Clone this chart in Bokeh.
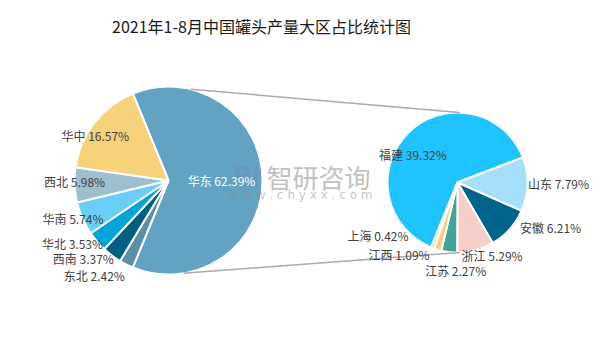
import math
from bokeh.plotting import figure
from bokeh.models import Range1d, ColumnDataSource
from bokeh.core.properties import value
from bokeh.embed import file_html
from bokeh.resources import INLINE

# ---------------- data ----------------
title_text = "2021年1-8月中国罐头产量大区占比统计图"
regions = ["华东", "东北", "西南", "华北", "华南", "西北", "华中"]
region_share = [62.39, 2.42, 3.37, 3.53, 5.74, 5.98, 16.57]
region_colors = ["#62A3C3", "#5B8FA8", "#005F82", "#05A3DC", "#6ACFF6", "#9DBFCF", "#F6D27B"]

provinces = ["福建", "山东", "安徽", "浙江", "江苏", "江西", "上海"]
province_share = [39.32, 7.79, 6.21, 5.29, 2.27, 1.09, 0.42]
province_colors = ["#1FC3FF", "#A5DFF8", "#006389", "#F7CFC8", "#42A39A", "#F6D27B", "#A9C6D2"]

# ---------------- layout ----------------
H = 364
FONT = "Noto Sans CJK SC"
L_C = (168, H - 180); L_R = 94
R_C = (457, H - 182); R_R = 70
R_THETA0 = 247.9  # start angle of second pie (deg, math)
# label offsets from rim point at slice mid-angle (screen px, y down)
L_OFF = [(-41, 0), (-32, 11), (-28.5, 3), (-24.5, 2), (-9.5, 0), (0, -3), (1, 13)]
R_OFF = [(4.5, 22), (31, -1), (41, -2), (16.5, 5), (6.5, 18), (-38.5, 5), (-54.5, -12)]


def wedges(shares, theta0_deg):
    total = sum(shares)
    a = math.radians(theta0_deg)
    starts, ends, mids = [], [], []
    for s in shares:
        span = 2 * math.pi * s / total
        starts.append(a); ends.append(a - span); mids.append(a - span / 2)
        a -= span
    return starts, ends, mids


p = figure(width=590, height=348, output_backend="svg", toolbar_location=None,
           x_range=Range1d(0, 590), y_range=Range1d(16, 364), min_border=0)
p.axis.visible = False
p.grid.visible = False
p.outline_line_color = None
p.background_fill_color = "white"

# left pie
l_theta0 = 180.0 * region_share[0] / sum(region_share)
ls, le, lm = wedges(region_share, l_theta0)
p.wedge(x=L_C[0], y=L_C[1], radius=L_R,
        source=ColumnDataSource(dict(s=ls, e=le, c=region_colors)),
        start_angle="s", end_angle="e", direction="clock",
        fill_color="c", line_color="white", line_width=2)

# right pie
rs, re_, rm = wedges(province_share, R_THETA0)
p.wedge(x=R_C[0], y=R_C[1], radius=R_R,
        source=ColumnDataSource(dict(s=rs, e=re_, c=province_colors)),
        start_angle="s", end_angle="e", direction="clock",
        fill_color="c", line_color="white", line_width=2)

# connector lines
for la, ra in [(76.4, 88.4), (-80.9, -88.3)]:
    x0 = L_C[0] + L_R * math.cos(math.radians(la)); y0 = L_C[1] + L_R * math.sin(math.radians(la))
    x1 = R_C[0] + R_R * math.cos(math.radians(ra)); y1 = R_C[1] + R_R * math.sin(math.radians(ra))
    p.line([x0, x1], [y0, y1], line_color="#ABABAB", line_width=1.5)

# watermark
p.text(x=[318], y=[H - 176], text=["智研咨询"], text_align="center", text_baseline="middle",
       text_font=value(FONT), text_font_size="26px", text_color="#8C8C8C", text_alpha=0.55)
p.text(x=[300], y=[H - 194], text=["w w w . c h y x x . c o m"], text_align="center",
       text_baseline="middle", text_font=value("DejaVu Sans"), text_font_size="12px",
       text_color="#8C8C8C", text_alpha=0.5)
p.text(x=[246], y=[H - 176], text=["Pi"], text_align="center", text_baseline="middle",
       text_font=value("DejaVu Sans"), text_font_size="26px", text_font_style="bold",
       text_color="#6E8CA8", text_alpha=0.45)


def labels(names, shares, mids, center, r, offs, colors):
    xs, ys, ts = [], [], []
    for n, v, m, (dx, dy) in zip(names, shares, mids, offs):
        xs.append(center[0] + r * math.cos(m) + dx)
        ys.append(center[1] + r * math.sin(m) - dy)
        ts.append(f"{n} {v:.2f}%")
    p.text(x=xs, y=ys, text=ts, text_align="center", text_baseline="middle",
           text_font=value(FONT), text_font_size="12px", text_color=colors)


labels(regions, region_share, lm, L_C, L_R, L_OFF,
       ["#FFFFFF"] + ["#404040"] * (len(regions) - 1))
labels(provinces, province_share, rm, R_C, R_R, R_OFF, ["#404040"] * len(provinces))

# title
p.text(x=[261], y=[H - 25], text=[title_text], text_align="center", text_baseline="middle",
       text_font=value(FONT), text_font_size="16px", text_color="#1A1A1A")

open("out.html", "w").write(file_html(p, INLINE))
